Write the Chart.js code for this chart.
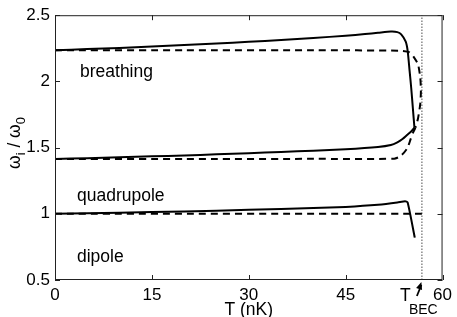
<!DOCTYPE html>
<html lang="en">
  <head>
    <meta charset="UTF-8" />
    <title>Collective modes vs temperature</title>
    <style>
      * { margin: 0; padding: 0; box-sizing: border-box; }
      body { background: #fff; }
      #chart { display: block; }
    </style>
  </head>
  <body>
    <canvas id="chart" width="457" height="317"></canvas>

    <script src="https://cdn.jsdelivr.net/npm/chart.js"></script>
    <script>
      // axis ticks
      const xTicks = [0, 15, 30, 45, 60];
      const yTicks = [0.5, 1, 1.5, 2, 2.5];
      const tBEC = 56.8;

      // breathing mode, solid (runs down into the quadrupole branch)
      const breathSolidT = [0, 5, 10, 15, 20, 25, 30, 35, 40, 45, 48, 50, 52, 53, 53.6, 54.3, 54.6, 54.9, 55.15, 55.4, 55.65];
      const breathSolidW = [2.236, 2.244, 2.253, 2.263, 2.274, 2.286, 2.299, 2.313, 2.328, 2.345, 2.358, 2.367, 2.376, 2.372, 2.355, 2.30, 2.23, 2.08, 1.95, 1.80, 1.65];
      // breathing mode, dashed
      const breathDashT = [0, 20, 40, 53.5, 54.9, 55.6, 56.2, 56.55, 56.65, 56.55, 56.2, 55.8];
      const breathDashW = [2.236, 2.236, 2.235, 2.232, 2.22, 2.18, 2.13, 2.03, 1.93, 1.83, 1.72, 1.65];

      // quadrupole mode
      const quadSolidT = [0, 5, 10, 15, 20, 25, 30, 35, 40, 45, 50, 52, 53, 53.8, 54.5, 55.1, 55.65];
      const quadSolidW = [1.414, 1.42, 1.427, 1.434, 1.441, 1.449, 1.458, 1.467, 1.477, 1.488, 1.505, 1.52, 1.54, 1.565, 1.595, 1.62, 1.65];
      const quadDashT = [0, 20, 40, 52.5, 53.3, 54.0, 54.6, 55.1, 55.5, 55.8];
      const quadDashW = [1.414, 1.414, 1.415, 1.416, 1.43, 1.46, 1.50, 1.57, 1.62, 1.65];

      // dipole mode
      const dipSolidT = [0, 10, 20, 30, 40, 45, 50, 53, 54.2, 54.6, 55.7];
      const dipSolidW = [1.0, 1.008, 1.018, 1.03, 1.043, 1.052, 1.068, 1.085, 1.095, 1.085, 0.82];
      const dipDashT = [0, 56.8];
      const dipDashW = [1.0, 1.0];

      // mode names and where their baselines sit (data units)
      const modeNames = ["breathing", "quadrupole", "dipole"];
      const modeLabelT = [3.87, 3.4, 3.4];
      const modeLabelW = [2.03, 1.096, 0.638];

      const FONT = "Liberation Sans, Arial, Helvetica, sans-serif";

      function pts(ts, ws) {
        return ts.map((t, i) => ({ x: t, y: ws[i] }));
      }

      function line(ts, ws, dashed) {
        return {
          data: pts(ts, ws),
          borderColor: "#000",
          borderWidth: 2,
          borderDash: dashed ? [7, 5] : [],
          pointRadius: 0,
          tension: 0.2,
          fill: false,
        };
      }

      const datasets = [
        line(breathSolidT, breathSolidW, false),
        line(breathDashT, breathDashW, true),
        line(quadSolidT, quadSolidW, false),
        line(quadDashT, quadDashW, true),
        line(dipSolidT, dipSolidW, false),
        line(dipDashT, dipDashW, true),
        {
          data: pts([tBEC, tBEC], [yTicks[0], yTicks[yTicks.length - 1]]),
          borderColor: "#888",
          borderWidth: 1.5,
          borderDash: [1.5, 1.5],
          pointRadius: 0,
          tension: 0,
        },
      ];

      // frame, inward ticks, y title, text labels, T_BEC arrow
      const decor = {
        id: "decor",
        afterDatasetsDraw(chart) {
          const ctx = chart.ctx;
          const a = chart.chartArea;
          const xs = chart.scales.x;
          const ys = chart.scales.y;
          ctx.save();

          ctx.strokeStyle = "#222";
          ctx.lineWidth = 1;
          ctx.strokeRect(a.left + 0.5, a.top + 0.5, a.right - a.left - 1, a.bottom - a.top - 1);

          ctx.beginPath();
          xTicks.forEach((v) => {
            const px = Math.round(xs.getPixelForValue(v)) + 0.5;
            ctx.moveTo(px, a.bottom);
            ctx.lineTo(px, a.bottom - 5);
            ctx.moveTo(px, a.top);
            ctx.lineTo(px, a.top + 5);
          });
          yTicks.forEach((v) => {
            const py = Math.round(ys.getPixelForValue(v)) + 0.5;
            ctx.moveTo(a.left, py);
            ctx.lineTo(a.left + 5, py);
            ctx.moveTo(a.right, py);
            ctx.lineTo(a.right - 5, py);
          });
          ctx.stroke();

          ctx.fillStyle = "#000";
          ctx.font = "17.5px " + FONT;
          ctx.textBaseline = "alphabetic";
          ctx.textAlign = "left";
          modeNames.forEach((name, i) => {
            ctx.fillText(name, xs.getPixelForValue(modeLabelT[i]), ys.getPixelForValue(modeLabelW[i]));
          });

          // y title: omega_i / omega_0
          ctx.translate(20, 143);
          ctx.rotate(-Math.PI / 2);
          const parts = [
            ["\u03C9", 17.5, 0],
            ["i", 13, 5],
            [" / ", 17.5, 0],
            ["\u03C9", 17.5, 0],
            ["0", 13, 5],
          ];
          let total = 0;
          parts.forEach((p) => {
            ctx.font = p[1] + "px " + FONT;
            total += ctx.measureText(p[0]).width;
          });
          let x = -total / 2;
          parts.forEach((p) => {
            ctx.font = p[1] + "px " + FONT;
            ctx.fillText(p[0], x, p[2]);
            x += ctx.measureText(p[0]).width;
          });
          ctx.setTransform(1, 0, 0, 1, 0, 0);

          // T_BEC label and arrow
          const bx = xs.getPixelForValue(tBEC);
          ctx.font = "17.5px " + FONT;
          ctx.fillText("T", bx - 22, a.bottom + 21);
          ctx.font = "14px " + FONT;
          ctx.fillText("BEC", bx - 13, a.bottom + 34);

          const tipX = bx - 0.5, tipY = a.bottom + 2;
          const tailX = bx - 5, tailY = a.bottom + 16;
          ctx.strokeStyle = "#000";
          ctx.lineWidth = 1.8;
          ctx.beginPath();
          ctx.moveTo(tailX, tailY);
          ctx.lineTo(tipX, tipY + 3);
          ctx.stroke();
          const ang = Math.atan2(tipY - tailY, tipX - tailX);
          ctx.beginPath();
          ctx.moveTo(tipX, tipY);
          ctx.lineTo(tipX - 8 * Math.cos(ang - 0.4), tipY - 8 * Math.sin(ang - 0.4));
          ctx.lineTo(tipX - 8 * Math.cos(ang + 0.4), tipY - 8 * Math.sin(ang + 0.4));
          ctx.closePath();
          ctx.fill();

          ctx.restore();
        },
      };

      new Chart(document.getElementById("chart").getContext("2d"), {
        type: "line",
        data: { datasets: datasets },
        options: {
          responsive: false,
          animation: false,
          devicePixelRatio: 1,
          layout: { padding: { top: 14, right: 14, left: 0, bottom: 0 } },
          plugins: { legend: { display: false }, tooltip: { enabled: false } },
          scales: {
            x: {
              type: "linear",
              min: 0,
              max: 60,
              afterBuildTicks: (s) => { s.ticks = xTicks.map((v) => ({ value: v })); },
              afterFit: (s) => { s.height = 37; },
              grid: { display: false, drawTicks: false },
              border: { display: false },
              ticks: { color: "#000", padding: 5, font: { size: 17, family: FONT } },
              title: {
                display: true,
                text: "T (nK)",
                color: "#000",
                font: { size: 17.5, family: FONT },
                padding: { top: 0, bottom: -4 },
              },
            },
            y: {
              type: "linear",
              min: 0.5,
              max: 2.5,
              afterBuildTicks: (s) => { s.ticks = yTicks.map((v) => ({ value: v })); },
              afterFit: (s) => { s.width = 55; },
              grid: { display: false, drawTicks: false },
              border: { display: false },
              ticks: {
                color: "#000",
                padding: 5,
                font: { size: 17, family: FONT },
                callback: (v) => String(v),
              },
            },
          },
        },
        plugins: [decor],
      });
    </script>
  </body>
</html>
